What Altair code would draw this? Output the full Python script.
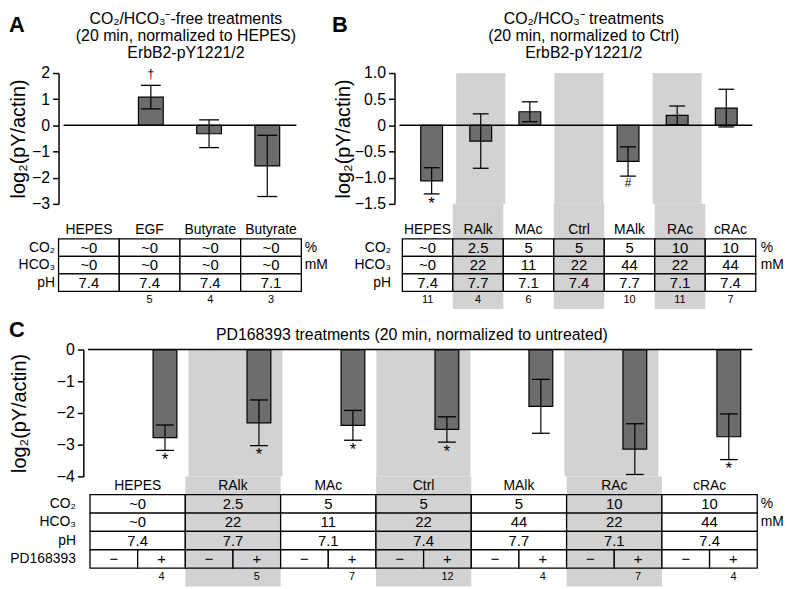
import altair as alt
import pandas as pd

FONT = "Liberation Sans"
BAR_FILL = "#6d6d6d"
SHADE = "#d2d2d2"
INK = "black"

# ---------------- data ----------------
A_groups = ["HEPES", "EGF", "Butyrate", "Butyrate"]
A_mean = [0.0, 1.08, -0.32, -1.55]
A_err = [0.0, 0.45, 0.53, 1.17]
A_sig = ["", "†", "", ""]
A_co2 = ["~0", "~0", "~0", "~0"]
A_hco3 = ["~0", "~0", "~0", "~0"]
A_ph = ["7.4", "7.4", "7.4", "7.1"]
A_n = ["", "5", "4", "3"]
A_shaded = [False, False, False, False]

groups7 = ["HEPES", "RAlk", "MAc", "Ctrl", "MAlk", "RAc", "cRAc"]
co2_7 = ["~0", "2.5", "5", "5", "5", "10", "10"]
hco3_7 = ["~0", "22", "11", "22", "44", "22", "44"]
ph_7 = ["7.4", "7.7", "7.1", "7.4", "7.7", "7.1", "7.4"]
shaded_7 = [False, True, False, True, False, True, False]

B_mean = [-1.06, -0.30, 0.26, 0.0, -0.69, 0.19, 0.33]
B_err = [0.25, 0.52, 0.19, 0.0, 0.28, 0.18, 0.36]
B_sig = ["*", "", "", "", "#", "", ""]
B_n = ["11", "4", "6", "", "10", "11", "7"]

C_mean = [-2.78, -2.31, -2.39, -2.52, -1.79, -3.14, -2.75]
C_err = [0.40, 0.72, 0.47, 0.40, 0.85, 0.80, 0.72]
C_sig = ["*", "*", "*", "*", "", "*", "*"]
C_n = ["4", "5", "7", "12", "4", "7", "4"]
pd_signs = ["\u2212", "+"]

A_title = ["CO₂/HCO₃⁻-free treatments", "(20 min, normalized to HEPES)", "ErbB2-pY1221/2"]
B_title = ["CO₂/HCO₃⁻ treatments", "(20 min, normalized to Ctrl)", "ErbB2-pY1221/2"]
C_title = "PD168393 treatments (20 min, normalized to untreated)"

YTITLE = "log₂(pY/actin)"


def plot_panel(letter, title, xpos, mean, err, sig, sig_above, shaded, xdom, ydom,
               yticks, ylab, w, h, bar_w, cap_w, tpad, title_dx, letter_dx, letter_dy,
               title_offset, axis_offset=0, zero_x0=None):
    lo = [round(m - e, 4) for m, e in zip(mean, err)]
    hi = [round(m + e, 4) for m, e in zip(mean, err)]
    df = pd.DataFrame({"x": xpos, "mean": mean, "lo": lo, "hi": hi, "sig": sig, "err": err})
    xs = alt.Scale(domain=xdom, nice=False, zero=False)
    ys = alt.Scale(domain=ydom, nice=False, zero=False)
    X = alt.X("x:Q", scale=xs, axis=None)
    yaxis = alt.Axis(values=yticks, labelExpr=ylab, grid=False, offset=axis_offset,
                     title=YTITLE, titleFont=FONT, titleFontSize=20,
                     titleFontWeight="normal", titleColor=INK, titlePadding=tpad,
                     labelFont=FONT, labelFontSize=16, labelColor=INK, labelPadding=3,
                     tickSize=6, tickColor=INK, tickWidth=1.5,
                     domainColor=INK, domainWidth=1.5)

    def Y(f):
        return alt.Y(f + ":Q", scale=ys, axis=None)

    layers = []
    sx = [i for i, s in enumerate(shaded) if s]
    if sx:
        sh = pd.DataFrame({"x0": [i - 0.5 for i in sx], "x1": [i + 0.5 for i in sx]})
        layers.append(alt.Chart(sh).mark_rect(color=SHADE).encode(
            x=alt.X("x0:Q", scale=xs, axis=None), x2="x1:Q"))
    layers.append(alt.Chart(df).transform_filter("datum.mean != 0").mark_bar(
        size=bar_w, color=BAR_FILL, stroke=INK, strokeWidth=1.2).encode(
        x=X, y=alt.Y("mean:Q", scale=ys, axis=yaxis, title=YTITLE)))
    # zero line from the y axis to the right edge of the data area
    zdf = pd.DataFrame({"z": [0.0], "x0": [xdom[0] if zero_x0 is None else zero_x0],
                        "x1": [xdom[1]]})
    layers.append(alt.Chart(zdf).mark_rule(color=INK, strokeWidth=1.5).encode(
        x=alt.X("x0:Q", scale=xs, axis=None), x2="x1:Q", y=Y("z")))
    eb = alt.Chart(df).transform_filter("datum.err > 0")
    layers.append(eb.mark_rule(color=INK, strokeWidth=1.2).encode(x=X, y=Y("lo"), y2="hi:Q"))
    for f in ["lo", "hi"]:
        layers.append(eb.mark_tick(orient="horizontal", size=cap_w, thickness=1.3,
                                   color=INK, opacity=1).encode(x=X, y=Y(f)))
    st = alt.Chart(df).transform_filter("datum.sig != ''").transform_calculate(
        fs="datum.sig == '*' ? 17 : 12")
    if sig_above:
        layers.append(st.mark_text(font=FONT, color=INK, baseline="bottom", dy=-4).encode(
            x=X, y=Y("hi"), text="sig:N", size=alt.Size("fs:Q", scale=None)))
    else:
        layers.append(st.mark_text(font=FONT, color=INK, baseline="top", dy=2).encode(
            x=X, y=Y("lo"), text="sig:N", size=alt.Size("fs:Q", scale=None)))
    layers.append(alt.Chart(pd.DataFrame({"t": [letter]})).mark_text(
        font=FONT, fontSize=22, fontWeight="bold", color=INK, align="left",
        baseline="alphabetic", x=letter_dx, y=letter_dy).encode(text="t:N"))
    return alt.layer(*layers).resolve_axis(y="independent").properties(
        width=w, height=h,
        title=alt.TitleParams(text=title, font=FONT, fontSize=16, fontWeight="normal",
                              color=INK, anchor="middle", frame="group", lineHeight=17,
                              offset=title_offset, dx=title_dx))


def table_panel(groups, vals, shaded, xdom, w, h, n_vals, n_pos, split_pd, left_offset=0):
    rows = (["gap"] if not split_pd else []) + ["label", "co2", "hco3", "ph"] + \
        (["pd"] if split_pd else []) + ["n"]
    xs = alt.Scale(domain=xdom, nice=False, zero=False)
    ys = alt.Scale(domain=rows, type="band", paddingInner=0, paddingOuter=0)
    cells = []
    for key, vv in zip(["co2", "hco3", "ph"], vals):
        for i, v in enumerate(vv):
            cells.append({"row": key, "x0": i - 0.5, "x1": i + 0.5, "xc": float(i), "txt": v,
                          "fill": SHADE if shaded[i] else "white"})
    if split_pd:
        for i in range(len(groups)):
            for j, s in enumerate(pd_signs):
                x0 = i - 0.5 + 0.5 * j
                cells.append({"row": "pd", "x0": x0, "x1": x0 + 0.5, "xc": x0 + 0.25, "txt": s,
                              "fill": SHADE if shaded[i] else "white"})
    cdf = pd.DataFrame(cells)
    hdf = pd.DataFrame({"row": ["label"] * len(groups),
                        "xc": [float(i) for i in range(len(groups))], "txt": groups})
    ndf = pd.DataFrame({"row": ["n"] * len(n_vals), "xc": n_pos, "txt": n_vals})
    layers = []
    sx = [i for i, s in enumerate(shaded) if s]
    if sx:
        sh = pd.DataFrame({"x0": [i - 0.5 for i in sx], "x1": [i + 0.5 for i in sx]})
        layers.append(alt.Chart(sh).mark_rect(color=SHADE).encode(
            x=alt.X("x0:Q", scale=xs, axis=None), x2="x1:Q"))
    left_axis = alt.Axis(orient="left", title=None, ticks=False, domain=False, grid=False,
                         offset=left_offset,
                         labelFont=FONT, labelFontSize=14, labelColor=INK, labelPadding=4,
                         labelExpr="datum.value == 'co2' ? 'CO₂' : datum.value == 'hco3' ? 'HCO₃' : "
                                   "datum.value == 'ph' ? 'pH' : datum.value == 'pd' ? 'PD168393' : ''")
    right_axis = alt.Axis(orient="right", title=None, ticks=False, domain=False, grid=False,
                          labelFont=FONT, labelFontSize=14, labelColor=INK, labelPadding=3,
                          labelExpr="datum.value == 'co2' ? '%' : datum.value == 'hco3' ? 'mM' : ''")
    layers.append(alt.Chart(cdf).mark_rect(stroke=INK, strokeWidth=1.3).encode(
        x=alt.X("x0:Q", scale=xs, axis=None), x2="x1:Q",
        y=alt.Y("row:N", scale=ys, axis=left_axis),
        fill=alt.Fill("fill:N", scale=None)))
    layers.append(alt.Chart(cdf).mark_text(font=FONT, fontSize=15, color=INK).encode(
        x=alt.X("xc:Q", scale=xs, axis=None),
        y=alt.Y("row:N", scale=ys, axis=right_axis), text="txt:N"))
    layers.append(alt.Chart(hdf).mark_text(font=FONT, fontSize=14, color=INK).encode(
        x=alt.X("xc:Q", scale=xs, axis=None),
        y=alt.Y("row:N", scale=ys, axis=None), text="txt:N"))
    layers.append(alt.Chart(ndf).mark_text(font=FONT, fontSize=11, color=INK).encode(
        x=alt.X("xc:Q", scale=xs, axis=None),
        y=alt.Y("row:N", scale=ys, axis=None), text="txt:N"))
    return alt.layer(*layers).resolve_axis(y="independent").properties(width=w, height=h)


INT_LAB = "datum.value == 0 ? '0' : format(datum.value, 'd')"
DEC_LAB = "datum.value == 0 ? '0' : format(datum.value, '.1f')"

AB_plot_h = 132
AB_table_h = 106

# Panel A
A_x = [float(i) for i in range(4)]
A_xdom = [-0.5, 3.5]
A_plot = plot_panel("A", A_title, A_x, A_mean, A_err, A_sig, True, A_shaded, A_xdom, [-3, 2],
                    [2, 1, 0, -1, -2, -3], INT_LAB, 245, AB_plot_h, 25, 20, 3, 6, -50, -41, -46.6)
A_tab = table_panel(A_groups, [A_co2, A_hco3, A_ph], A_shaded, A_xdom, 245, AB_table_h,
                    A_n, A_x, False)
panelA = alt.vconcat(A_plot, A_tab, spacing=0, bounds="flush").resolve_scale(
    x="independent", y="independent")

# Panel B
B_w = 366
B_x = [float(i) for i in range(7)]
B_xdom = [-0.655, 6.53]
B_plot = plot_panel("B", B_title, B_x, B_mean, B_err, B_sig, False, shaded_7, B_xdom, [-1.5, 1.0],
                    [1.0, 0.5, 0, -0.5, -1.0, -1.5], DEC_LAB, B_w, AB_plot_h, 22, 16, 1, 8, -63, -41,
                    -46.6)
B_tab = table_panel(groups7, [co2_7, hco3_7, ph_7], shaded_7, B_xdom, B_w, AB_table_h,
                    B_n, B_x, False)
panelB = alt.vconcat(B_plot, B_tab, spacing=0, bounds="flush").resolve_scale(
    x="independent", y="independent")

# Panel C (its y axis sits C_shift px right of panel A's axis)
C_shift = 25
C_data_w = 680
C_left, C_right = -0.57, 6.5
C_unit = C_data_w / (C_right - C_left)
C_xdom = [C_left - C_shift / C_unit, C_right]
C_w = C_data_w + C_shift
C_x = [i + 0.25 for i in range(7)]
C_plot = plot_panel("C", C_title, C_x, C_mean, C_err, C_sig, False, shaded_7, C_xdom, [-4, 0],
                    [0, -1, -2, -3, -4], INT_LAB, C_w, 128, 24, 18, 27, 4, -50, -13, -24.6,
                    axis_offset=-C_shift, zero_x0=C_left)
C_tab = table_panel(groups7, [co2_7, hco3_7, ph_7], shaded_7, C_xdom, C_w, 111,
                    C_n, C_x, True, left_offset=-21)
panelC = alt.vconcat(C_plot, C_tab, spacing=0, bounds="flush").resolve_scale(
    x="independent", y="independent")

top = alt.hconcat(panelA, panelB, spacing=4).resolve_scale(x="independent", y="independent")
chart = alt.vconcat(top, panelC, spacing=10).resolve_scale(
    x="independent", y="independent").properties(padding=0).configure_view(stroke=None)

chart.save("out.html", embed_options={"renderer": "svg", "actions": False})
